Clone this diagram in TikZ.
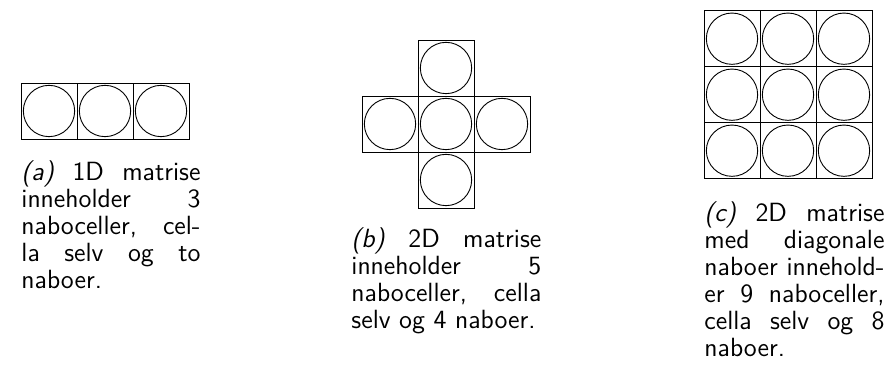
\documentclass[tikz,border=0pt]{standalone}
\usetikzlibrary{positioning}

\begin{document}
\begin{tikzpicture}[x=0.4444pt, y=-0.4444pt,
    cell/.style={draw, minimum size=24.9pt, inner sep=0pt},
    ball/.style={draw, circle, minimum size=22.8pt, inner sep=0pt},
    capt/.style={inner sep=0pt, anchor=base west, align=justify,
      font={\sffamily\fontsize{11.7}{12}\selectfont\hyphenpenalty=10000}}]
  \useasboundingbox (0,0) rectangle (887,381);

  % (a) 1D matrise
  \foreach \i/\x in {1/49,2/105,3/161} {
    \node[cell] (a\i) at (\x,111) {};
    \node[ball] (ab\i) at (a\i) {};
  }
  \node[capt, text width=79.6pt] (capa) at (21,180.5)
    {\textit{(a)}~1D~matrise\linebreak inneholder~3\linebreak naboceller,~cel-\linebreak la~selv~og~to\linebreak naboer.};

  % (b) 2D matrise, kors
  \foreach \n/\x/\y in {n/446/68, w/390/124, c/446/124, e/502/124, s/446/180} {
    \node[cell] (b\n) at (\x,\y) {};
    \node[ball] (bb\n) at (b\n) {};
  }
  \node[capt, text width=84.4pt] (capb) at (351,247.3)
    {\textit{(b)}~2D~matrise\linebreak inneholder~5\linebreak naboceller,~cella\linebreak selv~og~4~naboer.};

  % (c) 2D matrise med diagonaler
  \foreach \r in {1,2,3} {
    \foreach \k in {1,2,3} {
      \node[cell] (c\r\k) at ({676+56*\k},{-17.3+56*\r}) {};
      \node[ball] (cb\r\k) at (c\r\k) {};
    }
  }
  \node[capt, text width=80pt] (capc) at (704,221.5)
    {\textit{(c)}~2D~matrise\linebreak med~diagonale\linebreak naboer~innehold-\linebreak er~9~naboceller,\linebreak cella~selv~og~8\linebreak naboer.};
\end{tikzpicture}
\end{document}
